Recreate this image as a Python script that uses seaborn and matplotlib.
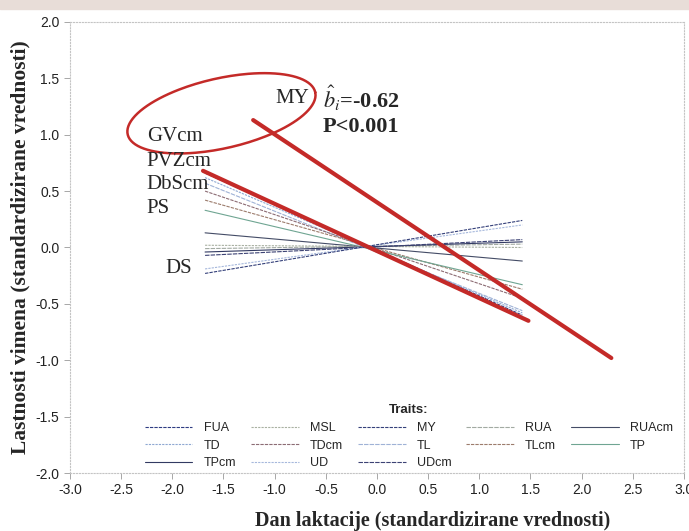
import numpy as np
import pandas as pd
import seaborn as sns
import matplotlib.pyplot as plt
from matplotlib.patches import Rectangle

# thin trait lines: value at the start and end of the fitted range
traits = ['FUA', 'TD', 'TL', 'TDcm', 'TLcm', 'TP', 'RUAcm',
          'MSL', 'RUA', 'TPcm', 'UDcm', 'UD', 'MY']
x_start, x_end = -1.68, 1.42
y_start = [0.66, 0.62, 0.57, 0.50, 0.42, 0.33, 0.13,
           0.02, -0.01, -0.04, -0.07, -0.19, -0.23]
y_end = [-0.60, -0.58, -0.56, -0.45, -0.37, -0.33, -0.12,
         0.00, 0.03, 0.05, 0.07, 0.20, 0.24]

trait_colors = {
    'FUA': '#2e3c82', 'MSL': '#a9b1a2', 'MY': '#34407a', 'RUA': '#a2aaa2',
    'RUAcm': '#444c66', 'TD': '#8fa8d2', 'TDcm': '#8c6c74', 'TL': '#9fb2d6',
    'TLcm': '#9c7c6c', 'TP': '#6fa592', 'TPcm': '#323a62', 'UD': '#a6b8dc',
    'UDcm': '#3c4274',
}
trait_dashes = {
    'FUA': (3, 1), 'MSL': (2, 1), 'MY': (3, 1), 'RUA': (4, 1),
    'RUAcm': '', 'TD': (2, 1), 'TDcm': (3, 1), 'TL': (4, 1),
    'TLcm': (3, 1), 'TP': '', 'TPcm': '', 'UD': (2, 1), 'UDcm': (4, 1),
}
legend_order = ['FUA', 'TD', 'TPcm', 'MSL', 'TDcm', 'UD',
                'MY', 'TL', 'UDcm', 'RUA', 'TLcm', 'RUAcm', 'TP']

# hand-drawn red highlight lines
red_x1 = [-1.70, 1.48]
red_y1 = [0.68, -0.65]
red_x2 = [-1.21, 2.29]
red_y2 = [1.13, -0.98]

xticks = np.arange(-3.0, 3.01, 0.5)
yticks = np.arange(-2.0, 2.01, 0.5)

rows = []
for t, a, b in zip(traits, y_start, y_end):
    rows.append({'trait': t, 'x': x_start, 'y': a})
    rows.append({'trait': t, 'x': x_end, 'y': b})
df = pd.DataFrame(rows)

sns.set_style('white')
plt.rcParams['font.family'] = ['Liberation Sans', 'DejaVu Sans']
plt.rcParams['mathtext.fontset'] = 'stix'

fig = plt.figure(figsize=(6.89, 5.31), dpi=100)
ax = fig.add_axes([0.1016, 0.1092, 0.8911, 0.8494])
# scanned page edge at the top
fig.patches.append(Rectangle((0, 1 - 9 / 531), 1, 9 / 531,
                             transform=fig.transFigure, color='#e8ddd8',
                             zorder=0))

sns.lineplot(data=df, x='x', y='y', hue='trait', style='trait',
             palette=trait_colors, dashes=trait_dashes, linewidth=0.8,
             ax=ax, legend=True)

sns.lineplot(x=red_x1, y=red_y1, color='#c42a28', linewidth=3.0, ax=ax)
sns.lineplot(x=red_x2, y=red_y2, color='#c42a28', linewidth=3.0, ax=ax)

# red ellipse round MY / GVcm (drawn in pixel units, then scaled to data)
t = np.linspace(0, 2 * np.pi, 200)
ang = np.deg2rad(12.7)
px = 96 * np.cos(t) * np.cos(ang) - 35 * np.sin(t) * np.sin(ang)
py = 96 * np.cos(t) * np.sin(ang) + 35 * np.sin(t) * np.cos(ang)
ax.plot(-1.52 + px / 102.2, 1.19 + py / 112.7, color='#c42a28', lw=1.8)

serif = ['Liberation Serif', 'DejaVu Serif']
ax.text(-0.83, 1.32, 'MY', family=serif, fontsize=15, ha='center', va='center')
for lab, yy in [('GVcm', 0.985), ('PVZcm', 0.76), ('DbScm', 0.56), ('PS', 0.35)]:
    ax.text(-2.25, yy, lab, family=serif, fontsize=15, ha='left', va='center')
ax.text(-2.07, -0.19, 'DS', family=serif, fontsize=15, ha='left', va='center')
ax.text(-0.53, 1.32, r'$\hat{b}_i$=-0.62', family=serif, fontsize=16,
        fontweight='bold', ha='left', va='center')
ax.text(-0.53, 1.07, 'P<0.001', family=serif, fontsize=16,
        fontweight='bold', ha='left', va='center')

ax.set_xlim(-3.0, 3.0)
ax.set_ylim(-2.0, 2.0)
ax.set_xticks(xticks)
ax.set_yticks(yticks)
ax.set_xticklabels([f'{v:.1f}' for v in xticks])
ax.set_yticklabels([f'{v:.1f}' for v in yticks])
ax.tick_params(axis='both', labelsize=10, colors='#999999', labelcolor='#222222',
               length=4, width=0.6, direction='out', bottom=True, left=True)
for s in ax.spines.values():
    s.set_color('#c4c4c4')
    s.set_linestyle(':')
    s.set_linewidth(0.8)

ax.set_xlabel('Dan laktacije (standardizirane vrednosti)', family=serif,
              fontsize=14.5, fontweight='bold')
ax.xaxis.set_label_coords(0.591, -0.084)
ax.set_ylabel('Lastnosti vimena (standardizirane vrednosti)', family=serif,
              fontsize=15.5, fontweight='bold', labelpad=4)

handles, labels = ax.get_legend_handles_labels()
lookup = dict(zip(labels, handles))
leg = ax.legend([lookup[k] for k in legend_order], legend_order, ncol=5,
                title='Traits:', loc='lower center',
                bbox_to_anchor=(0.552, -0.011), frameon=False, fontsize=9,
                handlelength=3.8, handletextpad=0.9, columnspacing=1.2,
                labelspacing=0.45, borderpad=0.2)
leg.get_title().set_fontweight('bold')
leg.get_title().set_fontsize(9.5)

fig.savefig('out.png', dpi=100)
